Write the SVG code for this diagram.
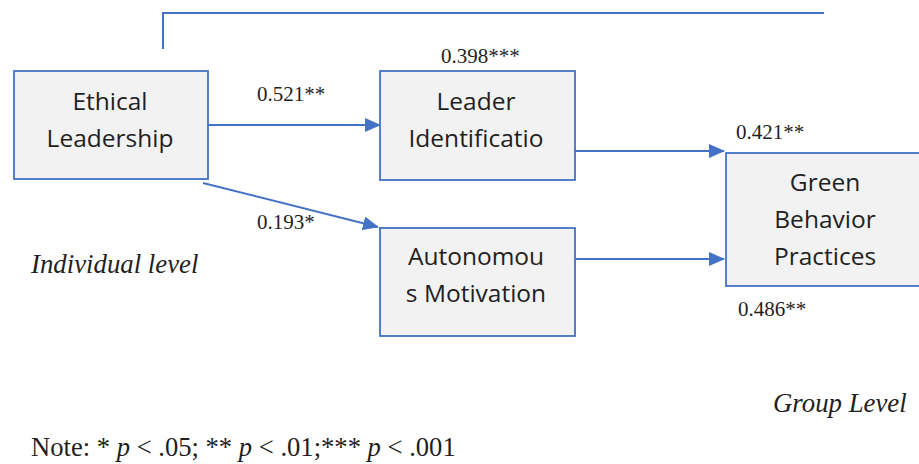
<svg xmlns="http://www.w3.org/2000/svg" width="919" height="464" viewBox="0 0 919 464">
<style>
.box{fill:#f2f2f2;stroke:#4472c4;stroke-width:1.8}
.nt{font-family:"Open Sans","Noto Sans",sans-serif;font-size:24.5px;fill:#1f1f1f;text-anchor:middle}
.lbl{font-family:"Liberation Serif","Times New Roman",serif;font-size:21px;fill:#1f1f1f}
.it{font-family:"Liberation Serif","Times New Roman",serif;font-size:26.8px;font-style:italic;fill:#1f1f1f}
.note{font-family:"Liberation Serif","Times New Roman",serif;font-size:26.6px;fill:#1f1f1f}
.conn{stroke:#4472c4;stroke-width:2;fill:none}
</style>
<defs>
<marker id="ah" markerUnits="userSpaceOnUse" markerWidth="16" markerHeight="14" refX="15" refY="7" orient="auto">
<path d="M0,0 L16,7 L0,14 z" fill="#4472c4"/>
</marker>
</defs>
<rect width="919" height="464" fill="#ffffff"/>
<g id="connectors">
<polyline class="conn" points="163,49 163,13 824,13"/>
<line class="conn" x1="208" y1="125" x2="380" y2="125" marker-end="url(#ah)"/>
<line class="conn" x1="203" y1="183" x2="378" y2="227" marker-end="url(#ah)"/>
<line class="conn" x1="575" y1="151" x2="724" y2="151" marker-end="url(#ah)"/>
<line class="conn" x1="575" y1="259" x2="724" y2="259" marker-end="url(#ah)"/>
</g>
<g id="ethical-leadership">
<rect class="box" x="14" y="71" width="194" height="108"/>
<text class="nt" x="110" y="110">Ethical</text>
<text class="nt" x="110" y="147">Leadership</text>
</g>
<g id="leader-identification">
<rect class="box" x="380" y="71" width="195" height="109"/>
<text class="nt" x="476" y="110">Leader</text>
<text class="nt" x="476" y="147">Identificatio</text>
</g>
<g id="autonomous-motivation">
<rect class="box" x="380" y="228" width="195" height="108"/>
<text class="nt" x="476" y="265">Autonomou</text>
<text class="nt" x="476" y="302">s Motivation</text>
</g>
<g id="green-behavior">
<rect class="box" x="726" y="153" width="200" height="133"/>
<text class="nt" x="825" y="191">Green</text>
<text class="nt" x="825" y="228">Behavior</text>
<text class="nt" x="825" y="265">Practices</text>
</g>
<g id="labels">
<text class="lbl" x="257" y="101">0.521**</text>
<text class="lbl" x="257" y="229">0.193*</text>
<text class="lbl" x="441" y="63">0.398***</text>
<text class="lbl" x="736" y="139">0.421**</text>
<text class="lbl" x="738" y="316">0.486**</text>
<text class="it" x="31" y="273">Individual level</text>
<text class="it" x="773" y="412">Group Level</text>
<text class="note" x="31" y="456">Note: * <tspan font-style="italic">p</tspan> &lt; .05; ** <tspan font-style="italic">p</tspan> &lt; .01;*** <tspan font-style="italic">p</tspan> &lt; .001</text>
</g>
</svg>
